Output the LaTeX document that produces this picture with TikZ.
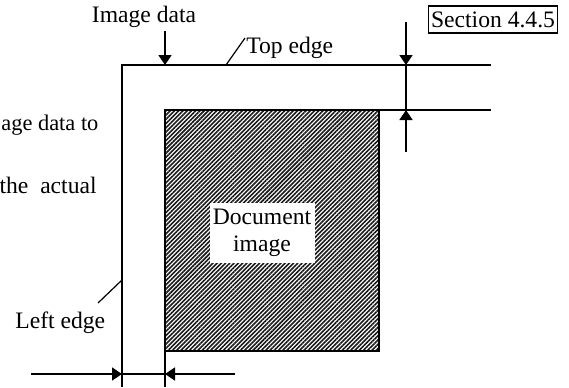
\documentclass[tikz,border=0pt]{standalone}
\usepackage{fontspec}
\setmainfont{Liberation Serif}
\usepackage{tikz}
\usetikzlibrary{arrows.meta, positioning, patterns.meta}

\begin{document}
\begin{tikzpicture}[x=0.5pt, y=-0.5pt,
    every node/.style={font=\fontsize{11.8}{13.8}\selectfont, inner sep=0pt},
    frameline/.style={line width=0.7pt},
    docarea/.style={
        line width=1.3pt,
        pattern={Lines[angle=45, distance=1.5pt, line width=0.8pt]},
        pattern color=black!90,
    },
    dimarrow/.style={line width=0.8pt, -{Triangle[length=5pt, width=6.5pt]}},
    dimline/.style={line width=0.9pt},
    leader/.style={line width=0.6pt},
    sectionbox/.style={
        draw, line width=0.6pt,
        minimum width=64.5pt, minimum height=13.5pt,
    },
    labelbox/.style={
        fill=white, align=center,
        minimum width=52.5pt, minimum height=30pt,
    },
]
\useasboundingbox (0,0) rectangle (569,387);

% ── Image data frame ───────────────────────────────────────────────────
\coordinate (corner)   at (122,65);
\coordinate (topEnd)   at (491,65);
\coordinate (leftEnd)  at (122,387);
\draw[frameline] (leftEnd) -- (corner) -- (topEnd);

% ── Document image area ────────────────────────────────────────────────
\coordinate (docNW) at (165,110);
\coordinate (docSE) at (379,351);
\coordinate (docNE) at (docSE |- docNW);
\coordinate (docSW) at (docNW |- docSE);
\draw[docarea] (docNW) rectangle (docSE);
\coordinate (innerEnd)  at (165,387);
\coordinate (marginEnd) at (491,110);
\draw[frameline] (docSW) -- (innerEnd);
\draw[frameline] (docNE) -- (marginEnd);
\node[labelbox] (doclabel) at (262,233) {Document\\image};

% ── Top margin dimension ───────────────────────────────────────────────
\coordinate (tmTop)   at (406,65);
\coordinate (tmBot)   at (406,110);
\coordinate (tmStart) at (406,22);
\coordinate (tmEnd)   at (406,152);
\draw[dimarrow] (tmStart) -- (tmTop);
\draw[dimline]  (tmTop) -- (tmBot);
\draw[dimarrow] (tmEnd) -- (tmBot);

% ── Left margin dimension ──────────────────────────────────────────────
\coordinate (lmLeft)  at (122,374);
\coordinate (lmRight) at (165,374);
\coordinate (lmStart) at (31,374);
\coordinate (lmEnd)   at (235,374);
\draw[dimarrow] (lmStart) -- (lmLeft);
\draw[dimline]  (lmLeft) -- (lmRight);
\draw[dimarrow] (lmEnd) -- (lmRight);

% ── Labels ─────────────────────────────────────────────────────────────
\node[anchor=base] (imgdata) at (144,22) {Image data};
\coordinate (imgTail) at (165,31);
\coordinate (imgTip)  at (165,65);
\draw[dimarrow] (imgTail) -- (imgTip);

\node[anchor=base west] (topedge) at (246,53) {Top edge};
\coordinate (topLead) at (226,65);
\coordinate (topLeadEnd) at (245,38);
\draw[leader] (topLead) -- (topLeadEnd);

\node[anchor=base west] (leftedge) at (15,328) {Left edge};
\coordinate (leftLead) at (122,280);
\coordinate (leftLeadEnd) at (98,303);
\draw[leader] (leftLead) -- (leftLeadEnd);

\node[sectionbox] (section) at (493,19.5) {Section 4.4.5};

\node[anchor=base west, font=\fontsize{11.2}{13.2}\selectfont]
    (note1) at (1,130) {age data to};
\node[anchor=base east] (note2) at (97,193) {the\ \ actual};

\end{tikzpicture}
\end{document}
